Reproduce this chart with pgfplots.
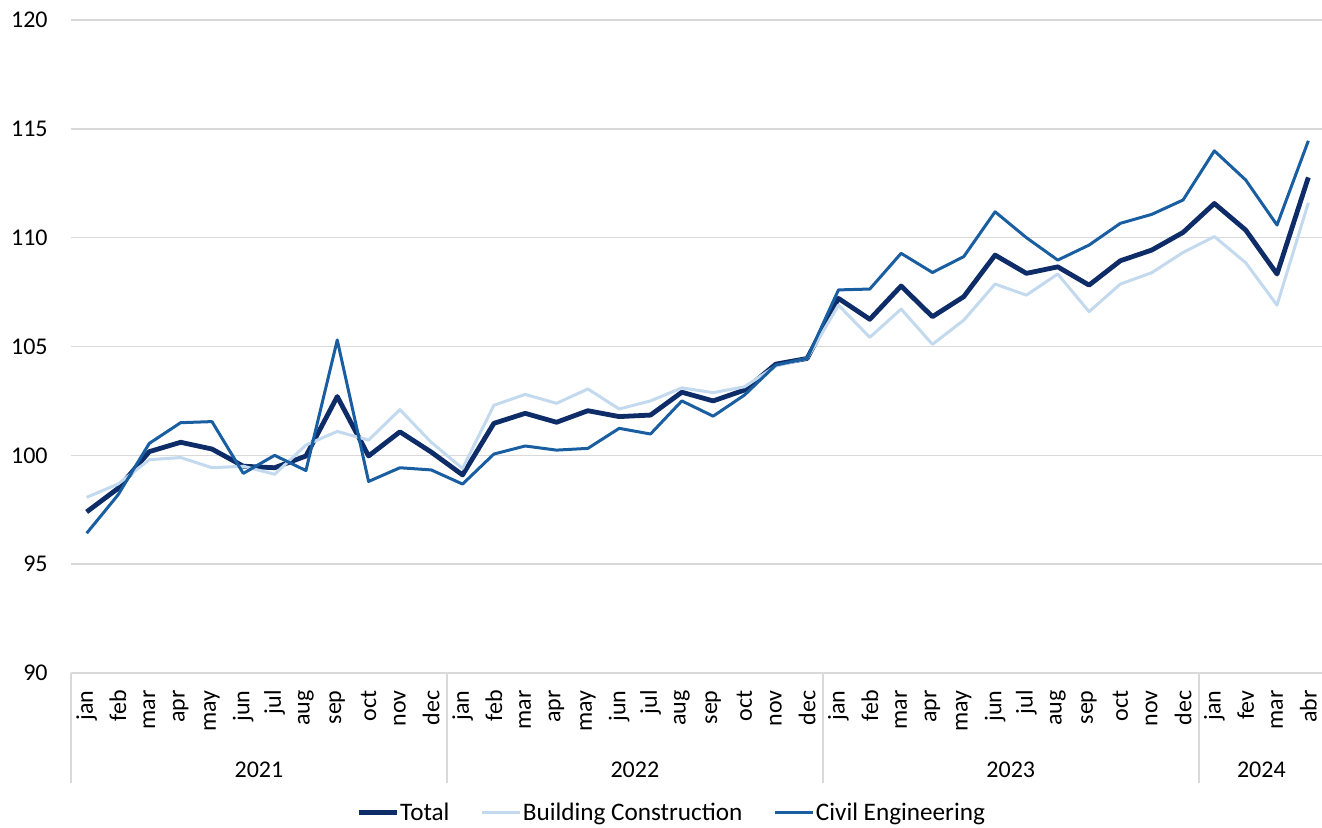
\documentclass[border=0pt]{standalone}
\usepackage{fontspec}
\setmainfont{Carlito}
\usepackage{pgfplots}
\usepackage{pgfplotstable}
\pgfplotsset{compat=1.18}
\definecolor{ctotal}{HTML}{0E2C68}
\definecolor{cbuild}{HTML}{C3D9EE}
\definecolor{ccivil}{HTML}{195EA1}
\definecolor{gridc}{HTML}{D9D9D9}
\pgfplotstableread{
x total build civil
0 97.40 98.07 96.42
1 98.48 98.68 98.18
2 100.17 99.80 100.55
3 100.60 99.90 101.50
4 100.29 99.43 101.55
5 99.50 99.50 99.17
6 99.43 99.13 100.00
7 99.97 100.47 99.30
8 102.70 101.10 105.30
9 99.97 100.70 98.80
10 101.08 102.10 99.43
11 100.15 100.60 99.33
12 99.10 99.40 98.68
13 101.47 102.30 100.06
14 101.93 102.80 100.43
15 101.52 102.39 100.24
16 102.05 103.05 100.32
17 101.78 102.13 101.24
18 101.85 102.50 100.98
19 102.90 103.10 102.50
20 102.50 102.88 101.80
21 103.00 103.15 102.77
22 104.19 104.10 104.15
23 104.45 104.45 104.45
24 107.21 106.90 107.60
25 106.25 105.42 107.64
26 107.78 106.72 109.28
27 106.37 105.10 108.40
28 107.29 106.21 109.13
29 109.20 107.87 111.19
30 108.36 107.36 110.00
31 108.66 108.33 108.97
32 107.82 106.60 109.66
33 108.94 107.87 110.66
34 109.43 108.39 111.07
35 110.24 109.32 111.73
36 111.57 110.05 113.99
37 110.35 108.85 112.65
38 108.33 106.90 110.58
39 112.77 111.60 114.45
}\datatable
\begin{document}
\begin{tikzpicture}
\useasboundingbox (-35.5pt,-77pt) rectangle (625.5pt,336.5pt);
\begin{axis}[
  at={(0,0)}, anchor=south west,
  scale only axis,
  width=626.5pt, height=326.5pt,
  xmin=-0.5, xmax=39.5,
  ymin=90, ymax=120,
  ytick={90,95,...,120},
  xtick=data,
  xticklabels={jan,feb,mar,apr,may,jun,jul,aug,sep,oct,nov,dec,jan,feb,mar,apr,may,jun,jul,aug,sep,oct,nov,dec,jan,feb,mar,apr,may,jun,jul,aug,sep,oct,nov,dec,jan,fev,mar,abr},
  axis line style={draw=none},
  major tick length=0pt,
  ymajorgrids,
  grid style={gridc, line width=0.8pt},
  clip=false,
  /pgf/number format/assume math mode=true,
  yticklabel style={font=\fontsize{12}{14}\selectfont, anchor=east, inner sep=0pt, xshift=-11.5pt},
  xticklabel style={font=\fontsize{12}{14}\selectfont, rotate=90, anchor=east, inner sep=0pt},
  xticklabel shift=8.5pt,
  legend style={draw=none, font=\fontsize{12.6}{14}\selectfont, at={(0.479,-0.214)}, anchor=center, legend columns=3, column sep=0pt, nodes={inner sep=0.6pt}, /tikz/every even column/.append style={column sep=15pt}},
  legend image code/.code={\draw[#1] (0pt,0pt) -- (19pt,0pt);},
  line join=round,
]
\addplot[ctotal, line width=2.4pt, line join=round] table[x=x, y=total] {\datatable};
\addlegendentry{Total}
\addplot[cbuild, line width=1.5pt, line join=round] table[x=x, y=build] {\datatable};
\addlegendentry{Building Construction}
\addplot[ccivil, line width=1.5pt, line join=round] table[x=x, y=civil] {\datatable};
\addlegendentry{Civil Engineering}
\draw[gridc, line width=0.8pt] (axis cs:-0.5,90) -- (axis cs:-0.5,84.95);
\draw[gridc, line width=0.8pt] (axis cs:11.5,90) -- (axis cs:11.5,84.95);
\draw[gridc, line width=0.8pt] (axis cs:23.5,90) -- (axis cs:23.5,84.95);
\draw[gridc, line width=0.8pt] (axis cs:35.5,90) -- (axis cs:35.5,84.95);
\node[font=\fontsize{12}{14}\selectfont, yshift=-48.5pt] at (axis cs:5.5,90) {2021};
\node[font=\fontsize{12}{14}\selectfont, yshift=-48.5pt] at (axis cs:17.5,90) {2022};
\node[font=\fontsize{12}{14}\selectfont, yshift=-48.5pt] at (axis cs:29.5,90) {2023};
\node[font=\fontsize{12}{14}\selectfont, yshift=-48.5pt] at (axis cs:37.5,90) {2024};
\end{axis}
\end{tikzpicture}
\end{document}
